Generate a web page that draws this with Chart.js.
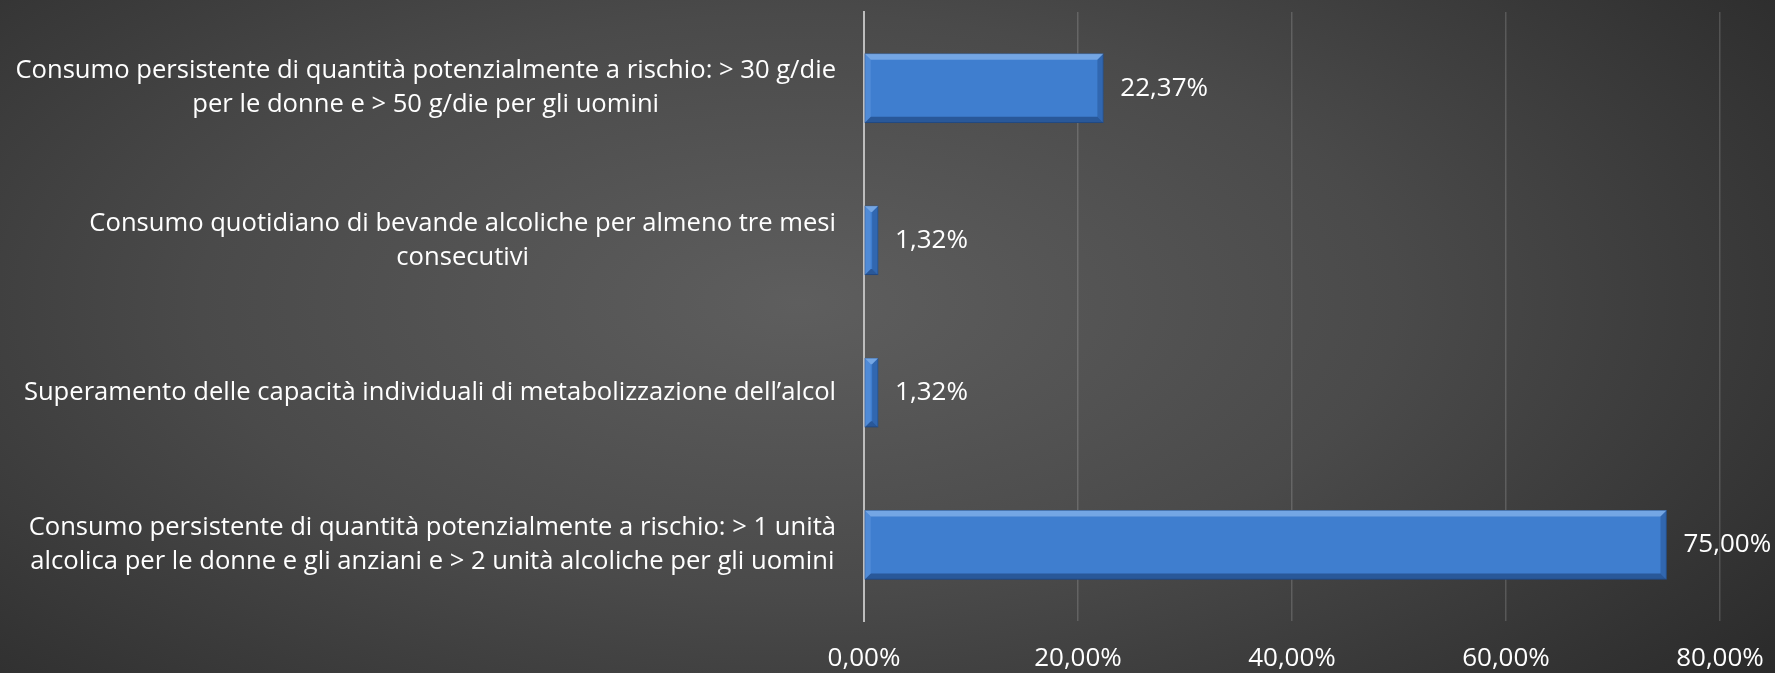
<!DOCTYPE html>
<html>
<head>
<meta charset="utf-8">
<script src="https://cdn.jsdelivr.net/npm/chart.js@4"></script>
<style>
  html, body { margin: 0; padding: 0; }
  body {
    width: 1775px; height: 673px; overflow: hidden;
    background: radial-gradient(ellipse 75% 95% at 45% 45%, #5e5e5e 0%, #4a4a4a 45%, #333333 80%, #262626 100%);
  }
  #wrap { position: relative; width: 1775px; height: 673px; }
</style>
</head>
<body>
<div id="wrap"><canvas id="chartAlcol" width="1775" height="673"></canvas></div>
<script>
// categorie (ogni riga e una linea dell'etichetta) e valori in percentuale
const categories = [
  ['Consumo persistente di quantità potenzialmente a rischio: > 30 g/die', 'per le donne e > 50 g/die per gli uomini'],
  ['Consumo quotidiano di bevande alcoliche per almeno tre mesi', 'consecutivi'],
  ['Superamento delle capacità individuali di metabolizzazione dell’alcol'],
  ['Consumo persistente di quantità potenzialmente a rischio: > 1 unità', 'alcolica per le donne e gli anziani e > 2 unità alcoliche per gli uomini'],
];
const values = [22.37, 1.32, 1.32, 75.00];
const xTicks = [0, 20, 40, 60, 80];

const FONT = '"Open Sans", sans-serif';
const pct = (v) => v.toFixed(2).replace('.', ',') + '%';

// etichette categorie: blocco allineato a destra, righe centrate fra loro
const categoryLabels = {
  id: 'categoryLabels',
  afterDraw(chart) {
    const { ctx, scales: { y } } = chart;
    ctx.save();
    ctx.font = '25.6px ' + FONT;
    ctx.fillStyle = '#ffffff';
    ctx.textBaseline = 'middle';
    ctx.textAlign = 'center';
    const right = y.right - 28;
    const lh = 34;
    categories.forEach((lines, i) => {
      const cy = y.getPixelForTick(i);
      const w = Math.max(...lines.map((l) => ctx.measureText(l).width));
      const cx = right - w / 2;
      lines.forEach((l, j) => {
        ctx.fillText(l, cx, cy + (j - (lines.length - 1) / 2) * lh);
      });
    });
    ctx.restore();
  },
};

// valori a destra delle barre + effetto smussato
const barExtras = {
  id: 'barExtras',
  afterDatasetsDraw(chart) {
    const { ctx } = chart;
    const meta = chart.getDatasetMeta(0);
    ctx.save();
    meta.data.forEach((bar, i) => {
      const left = bar.base, right = bar.x;
      const top = bar.y - bar.height / 2, bottom = bar.y + bar.height / 2;
      const b = Math.min(6, (right - left) / 2);
      // bordo superiore chiaro
      ctx.fillStyle = 'rgba(170, 205, 250, 0.5)';
      ctx.beginPath();
      ctx.moveTo(left, top); ctx.lineTo(right, top); ctx.lineTo(right - b, top + b); ctx.lineTo(left + b, top + b); ctx.closePath(); ctx.fill();
      // bordo inferiore scuro
      ctx.fillStyle = 'rgba(20, 50, 100, 0.5)';
      ctx.beginPath();
      ctx.moveTo(left, bottom); ctx.lineTo(right, bottom); ctx.lineTo(right - b, bottom - b); ctx.lineTo(left + b, bottom - b); ctx.closePath(); ctx.fill();
      // lato destro
      ctx.fillStyle = 'rgba(30, 70, 130, 0.4)';
      ctx.beginPath();
      ctx.moveTo(right, top); ctx.lineTo(right, bottom); ctx.lineTo(right - b, bottom - b); ctx.lineTo(right - b, top + b); ctx.closePath(); ctx.fill();
      // lato sinistro
      ctx.fillStyle = 'rgba(120, 170, 235, 0.3)';
      ctx.beginPath();
      ctx.moveTo(left, top); ctx.lineTo(left, bottom); ctx.lineTo(left + b, bottom - b); ctx.lineTo(left + b, top + b); ctx.closePath(); ctx.fill();

      ctx.font = '26px ' + FONT;
      ctx.fillStyle = '#ffffff';
      ctx.textAlign = 'left';
      ctx.textBaseline = 'middle';
      ctx.fillText(pct(values[i]), right + 17, bar.y);
    });
    ctx.restore();
  },
};

new Chart(document.getElementById('chartAlcol'), {
  type: 'bar',
  data: {
    labels: categories.map((l) => l.join(' ')),
    datasets: [{
      data: values,
      backgroundColor: (c) => {
        const { chart } = c;
        const el = chart.getDatasetMeta(0).data[c.dataIndex];
        const fallback = '#3f7ecf';
        if (!el || !chart.chartArea) return fallback;
        const t = el.y - el.height / 2, btm = el.y + el.height / 2;
        if (!Number.isFinite(t) || !Number.isFinite(btm) || btm <= t) return fallback;
        const g = chart.ctx.createLinearGradient(0, t, 0, btm);
        g.addColorStop(0, '#5c98e2');
        g.addColorStop(0.25, '#4383d6');
        g.addColorStop(0.75, '#3a76c6');
        g.addColorStop(1, '#2f64ad');
        return g;
      },
      borderColor: '#2a5896',
      borderWidth: 1,
      borderSkipped: false,
      barThickness: 69,
    }],
  },
  options: {
    indexAxis: 'y',
    responsive: false,
    animation: false,
    devicePixelRatio: 1,
    layout: { padding: { top: 12, right: 55, bottom: 0, left: 0 } },
    plugins: { legend: { display: false }, tooltip: { enabled: false } },
    scales: {
      x: {
        min: 0, max: 80,
        afterBuildTicks: (s) => { s.ticks = xTicks.map((v) => ({ value: v })); },
        afterFit: (s) => { s.height = 52; s.paddingLeft = 0; s.paddingRight = 0; },
        grid: {
          color: (c) => (c.index === 0 ? 'rgba(0,0,0,0)' : 'rgba(255,255,255,0.16)'),
          lineWidth: 1.5,
          drawTicks: false,
        },
        border: { display: false },
        ticks: {
          color: '#ffffff',
          padding: 22,
          font: { family: FONT, size: 26 },
          callback: (v) => pct(v),
        },
      },
      y: {
        afterFit: (s) => { s.width = 864; },
        grid: { display: false },
        border: { display: true, color: '#bdbdbd', width: 2 },
        ticks: { display: false },
      },
    },
  },
  plugins: [categoryLabels, barExtras],
});
</script>
</body>
</html>
